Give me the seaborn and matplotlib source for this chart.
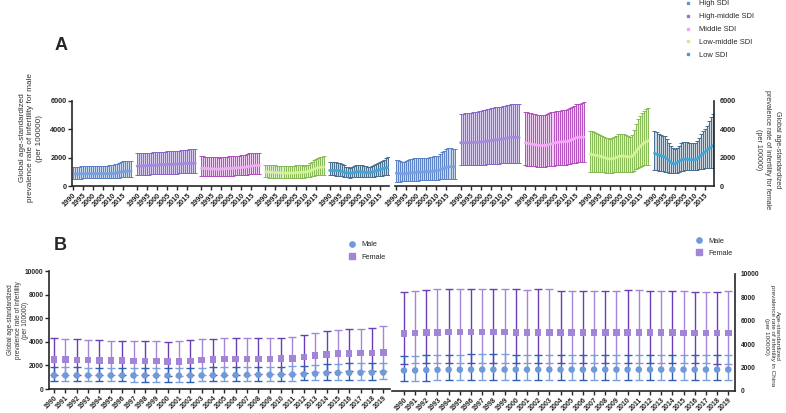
import numpy as np
import pandas as pd
import matplotlib
matplotlib.use("Agg")
import matplotlib.pyplot as plt
from matplotlib.lines import Line2D
import seaborn as sns

sns.set_style("ticks")
plt.rcParams['font.family'] = ['Liberation Sans', 'DejaVu Sans']

years = list(range(1990, 2020))
sdi_groups = ["High SDI", "High-middle SDI", "Middle SDI", "Low-middle SDI", "Low SDI"]

# ---- panel A, male (mean / upper / lower) ----
male_high = [850,850,855,860,860,865,870,870,875,875, 880,880,880,880,880,880,880,880,880,885, 890,900,930,960,990,1020,1040,1050,1050,1050]
male_high_up = [1350,1350,1360,1370,1380,1400,1420,1430,1440,1440, 1440,1440,1440,1440,1440,1440,1440,1440,1450,1460, 1480,1520,1580,1650,1700,1730,1740,1740,1740,1740]
male_high_lo = [520,520,520,525,525,530,530,535,535,540, 540,540,540,540,540,540,545,545,550,555, 560,570,585,600,610,615,620,620,620,620]

male_hmid = [1400,1405,1410,1420,1430,1440,1450,1455,1460,1470, 1480,1490,1500,1505,1510,1520,1525,1530,1535,1540, 1550,1560,1570,1580,1590,1595,1600,1600,1600,1600]
male_hmid_up = [2300,2300,2310,2320,2330,2340,2350,2360,2370,2380, 2390,2400,2410,2420,2430,2440,2450,2460,2470,2480, 2490,2500,2520,2540,2560,2570,2580,2580,2580,2580]
male_hmid_lo = [790,790,795,800,800,805,810,815,820,825, 830,835,840,845,850,855,860,865,870,875, 880,885,890,895,900,900,900,900,900,900]

male_mid = [1250,1245,1240,1230,1220,1210,1200,1195,1190,1190, 1200,1210,1220,1230,1240,1250,1260,1270,1280,1290, 1300,1310,1330,1360,1390,1410,1430,1440,1450,1450]
male_mid_up = [2100,2090,2080,2070,2060,2050,2040,2030,2020,2010, 2020,2040,2060,2080,2100,2110,2120,2130,2140,2150, 2160,2170,2210,2260,2300,2320,2340,2350,2360,2360]
male_mid_lo = [720,715,710,705,700,695,690,685,680,680, 685,690,700,710,720,730,740,745,750,755, 760,770,785,800,815,830,840,845,850,850]

male_lmid = [1000,990,980,970,960,950,940,930,920,915, 910,910,915,920,930,940,950,960,970,980, 990,1010,1050,1110,1170,1230,1280,1310,1330,1340]
male_lmid_up = [1500,1490,1480,1470,1460,1450,1440,1420,1400,1390, 1380,1390,1400,1420,1440,1450,1450,1450,1450,1440, 1450,1500,1600,1720,1840,1930,2000,2050,2080,2100]
male_lmid_lo = [620,610,600,595,590,585,580,575,570,565, 560,560,565,570,575,580,585,590,595,600, 610,630,660,700,730,760,780,790,800,800]

male_low = [1100,1100,1100,1100,1090,1080,1040,990,940,910, 900,920,950,980,1000,1000,990,970,960,950, 950,970,1010,1060,1110,1160,1200,1240,1270,1300]
male_low_up = [1700,1690,1680,1660,1640,1610,1550,1460,1370,1310, 1290,1330,1400,1460,1500,1480,1450,1420,1380,1360, 1350,1400,1480,1560,1640,1700,1770,1860,1960,2080]
male_low_lo = [760,755,750,740,730,720,690,660,630,610, 600,610,630,650,670,670,665,655,650,645, 645,655,670,690,710,725,740,750,760,770]

# ---- panel A, female ----
fem_high = [900,890,880,870,870,880,900,920,940,950, 960,970,980,990,1000,1000,1010,1020,1040,1060, 1080,1100,1150,1200,1260,1320,1350,1350,1350,1350]
fem_high_up = [1850,1800,1750,1720,1720,1750,1800,1870,1920,1950, 1960,1970,1980,1990,2000,2000,2010,2030,2060,2090, 2100,2150,2250,2380,2500,2600,2650,2650,2620,2600]
fem_high_lo = [310,310,310,320,320,330,340,350,360,370, 380,385,390,395,400,400,405,410,420,430, 440,450,470,490,510,520,520,510,500,490]

fem_hmid = [3050,3050,3050,3060,3060,3070,3070,3080,3080,3090, 3100,3110,3130,3150,3180,3200,3220,3240,3260,3280, 3300,3320,3350,3380,3410,3440,3450,3440,3430,3420]
fem_hmid_up = [5100,5100,5120,5140,5160,5180,5200,5220,5240,5260, 5300,5340,5380,5420,5460,5500,5520,5540,5560,5580, 5600,5630,5660,5700,5740,5780,5800,5780,5760,5750]
fem_hmid_lo = [1450,1455,1460,1465,1470,1475,1480,1485,1490,1495, 1500,1505,1510,1520,1530,1540,1550,1560,1570,1580, 1590,1600,1610,1620,1630,1640,1650,1650,1650,1650]

fem_mid = [3050,3020,2990,2960,2930,2910,2890,2870,2860,2850, 2860,2890,2930,2970,3010,3050,3080,3100,3110,3120, 3130,3150,3200,3260,3320,3390,3430,3450,3450,3450]
fem_mid_up = [5250,5200,5150,5120,5090,5060,5040,5020,5010,5000, 5020,5080,5140,5200,5240,5280,5300,5320,5340,5360, 5380,5420,5500,5580,5660,5760,5800,5800,5820,5950]
fem_mid_lo = [1450,1440,1420,1400,1390,1380,1370,1360,1350,1350, 1360,1380,1400,1420,1440,1450,1460,1470,1480,1490, 1500,1520,1560,1600,1630,1650,1670,1680,1690,1700]

fem_lmid = [2250,2220,2190,2160,2130,2100,2060,2010,1960,1920, 1900,1920,1960,2010,2060,2100,2110,2100,2080,2060, 2050,2100,2250,2450,2650,2800,2950,3050,3150,3200]
fem_lmid_up = [3900,3850,3790,3730,3660,3600,3540,3470,3400,3370, 3350,3400,3480,3560,3640,3700,3680,3640,3580,3500, 3450,3600,3950,4350,4700,4950,5150,5300,5400,5500]
fem_lmid_lo = [1020,1010,1000,990,980,970,960,955,950,945, 940,945,955,965,980,990,995,995,990,985, 980,1010,1080,1170,1260,1340,1400,1450,1480,1500]

fem_low = [2300,2250,2200,2150,2100,2050,1950,1820,1680,1580, 1550,1620,1720,1820,1880,1900,1900,1880,1860,1850, 1840,1900,2020,2150,2280,2400,2530,2650,2760,2850]
fem_low_up = [3900,3800,3700,3600,3550,3500,3300,3050,2800,2650, 2600,2700,2850,3000,3080,3100,3080,3050,3020,3000, 3000,3150,3400,3650,3850,4000,4250,4550,4850,5100]
fem_low_lo = [1150,1120,1090,1060,1030,1000,970,940,910,900, 900,940,990,1050,1090,1100,1100,1100,1100,1100, 1100,1130,1170,1200,1230,1250,1270,1280,1290,1300]

# ---- panel B, global ----
glob_male = [1160,1155,1150,1150,1150,1150,1150,1145,1140,1135, 1130,1130,1140,1150,1160,1170,1180,1190,1200,1205, 1210,1220,1250,1300,1340,1360,1370,1380,1390,1400]
glob_male_up = [1850,1840,1830,1820,1810,1800,1800,1800,1800,1800, 1790,1790,1800,1810,1830,1850,1860,1870,1880,1890, 1900,1910,1980,2070,2120,2150,2170,2190,2210,2240]
glob_male_lo = [650,650,650,645,640,640,640,635,630,625, 620,620,630,640,650,660,670,680,690,695, 700,710,730,760,780,790,800,800,800,810]
glob_fem = [2500,2480,2460,2440,2420,2410,2400,2390,2380,2360, 2340,2350,2380,2440,2500,2540,2550,2550,2560,2560, 2570,2600,2700,2850,2940,3000,3020,3040,3060,3100]
glob_fem_up = [4300,4260,4200,4150,4120,4100,4080,4060,4040,4030, 4020,4060,4120,4200,4280,4330,4340,4340,4340,4340, 4350,4400,4550,4750,4900,5000,5050,5100,5150,5300]
glob_fem_lo = [1200,1190,1180,1170,1160,1160,1160,1160,1150,1150, 1140,1140,1160,1180,1200,1220,1220,1220,1230,1230, 1240,1260,1320,1400,1460,1480,1490,1490,1490,1500]

# ---- panel B, China ----
cn_male = [1750,1760,1790,1810,1820,1820,1830,1830,1830,1830, 1830,1830,1830,1830,1830,1830,1830,1830,1830,1830, 1830,1830,1830,1830,1830,1830,1830,1830,1830,1830]
cn_male_up = [3000,3030,3060,3080,3100,3110,3120,3120,3120,3120, 3110,3110,3110,3110,3110,3110,3110,3110,3110,3110, 3100,3100,3100,3100,3100,3100,3100,3100,3090,3090]
cn_male_lo = [850,860,880,900,910,920,930,930,930,930, 930,930,930,930,930,930,930,930,930,930, 930,930,930,930,930,930,930,930,930,930]
cn_fem = [4900,4950,4990,5020,5040,5050,5050,5050,5040,5030, 5020,5010,5010,5010,5010,5000,5000,5000,5000,5000, 4990,4990,4990,4980,4980,4970,4960,4950,4940,4940]
cn_fem_up = [8450,8520,8620,8700,8720,8720,8730,8720,8720,8700, 8680,8650,8680,8690,8580,8560,8560,8560,8560,8560, 8620,8600,8580,8560,8520,8520,8500,8480,8500,8560]
cn_fem_lo = [2300,2370,2400,2420,2430,2430,2430,2430,2420,2420, 2410,2400,2410,2420,2420,2420,2420,2420,2420,2410, 2410,2400,2400,2400,2400,2400,2380,2370,2330,2300]

male_sets = [(male_high, male_high_lo, male_high_up), (male_hmid, male_hmid_lo, male_hmid_up),
             (male_mid, male_mid_lo, male_mid_up), (male_lmid, male_lmid_lo, male_lmid_up),
             (male_low, male_low_lo, male_low_up)]
fem_sets = [(fem_high, fem_high_lo, fem_high_up), (fem_hmid, fem_hmid_lo, fem_hmid_up),
            (fem_mid, fem_mid_lo, fem_mid_up), (fem_lmid, fem_lmid_lo, fem_lmid_up),
            (fem_low, fem_low_lo, fem_low_up)]

err_cols = ['#5a82c8', '#8a66cc', '#b44fc0', '#88bb55', '#4a6e8e']
band_cols = ['#a8bfe0', '#c4b0e6', '#e3b3e8', '#c8e0b0', '#a8bccc']
line_cols = ['#7aa0e0', '#a58ae0', '#f5a8f5', '#d4f29a', '#40a8d8']
leg_cols = ['#6a8ed8', '#9a70d8', '#f0a8f0', '#c8f090', '#40a0d0']

GAP = 32
lab_col = '#333333'
W, H = 786, 413

fig = plt.figure(figsize=(7.86, 4.13), dpi=100)


def panel_a(ax, sets):
    ticks, labs = [], []
    for g, (m, lo, up) in enumerate(sets):
        df = pd.DataFrame({'year': years, 'mean': m, 'lo': lo, 'up': up})
        df['x'] = g * GAP + (df['year'] - 1990)
        ax.fill_between(df['x'], df['lo'], df['up'], color=band_cols[g], alpha=0.6, lw=0)
        ax.errorbar(df['x'], df['mean'], yerr=[df['mean'] - df['lo'], df['up'] - df['mean']],
                    fmt='none', ecolor=err_cols[g], elinewidth=0.7, capsize=1.2, capthick=0.7)
        sns.lineplot(data=df, x='x', y='mean', ax=ax, color=line_cols[g], lw=2.0)
        for y in range(1990, 2019, 5):
            ticks.append(g * GAP + y - 1990)
            labs.append(str(y))
    ax.set_xticks(ticks)
    ax.set_xticklabels(labs, rotation=45, ha='right', rotation_mode='anchor',
                       fontsize=5.3, fontweight='bold')
    ax.set_xlim(-0.5, 5 * GAP - 2.5)
    ax.set_ylim(0, 6000)
    ax.set_yticks([0, 2000, 4000, 6000])
    ax.set_yticklabels(['0', '2000', '4000', '6000'], fontsize=5.3, fontweight='bold')
    ax.set_xlabel('')
    ax.set_ylabel('')
    ax.tick_params(length=3, width=1, pad=1)
    for s in ax.spines.values():
        s.set_linewidth(1.2)


# A left (male)
axA1 = fig.add_axes([0.0916, 0.5496, 0.403, 0.206])
panel_a(axA1, male_sets)
sns.despine(ax=axA1)
fig.text(31 / W, 1 - 138 / H, 'Global age-standardized\nprevalence rate of infertility for male\n(per 100000)',
         fontsize=5.9, color=lab_col, rotation=90, ha='center', va='center',
         multialignment='center', linespacing=1.35)

# A right (female)
axA2 = fig.add_axes([0.5025, 0.5496, 0.406, 0.206])
panel_a(axA2, fem_sets)
axA2.yaxis.tick_right()
sns.despine(ax=axA2, left=True, right=False)
fig.text(768 / W, 1 - 150 / H, 'Global age-standardized\nprevalence rate of infertility for female\n(per 100000)',
         fontsize=5.1, color=lab_col, rotation=270, ha='center', va='center',
         multialignment='center', linespacing=1.45)

handles = [Line2D([], [], marker='s', ls='none', color=c, markersize=2) for c in leg_cols]
fig.legend(handles, sdi_groups, loc='upper left', bbox_to_anchor=(0.862, 1.016), frameon=False,
           fontsize=5.4, handletextpad=0.9, labelspacing=0.75, handlelength=1)


def panel_b(ax, m, m_lo, m_up, f, f_lo, f_up):
    x = np.arange(len(years))
    mcols = ['#2f5fb0' if i % 2 == 0 else '#7aa0dc' for i in x]
    fcols = ['#6a3fb5' if i % 2 == 0 else '#a585d8' for i in x]
    m, m_lo, m_up = np.array(m), np.array(m_lo), np.array(m_up)
    f, f_lo, f_up = np.array(f), np.array(f_lo), np.array(f_up)
    for i in x:
        ax.errorbar(i, f[i], yerr=[[f[i] - f_lo[i]], [f_up[i] - f[i]]], fmt='none',
                    ecolor=fcols[i], elinewidth=1.0, capsize=3, capthick=1.0)
        ax.errorbar(i, m[i], yerr=[[m[i] - m_lo[i]], [m_up[i] - m[i]]], fmt='none',
                    ecolor=mcols[i], elinewidth=1.0, capsize=3, capthick=1.0)
    df = pd.DataFrame({'x': np.concatenate([x, x]), 'val': np.concatenate([m, f]),
                       'sex': ['Male'] * len(x) + ['Female'] * len(x)})
    sns.scatterplot(data=df, x='x', y='val', hue='sex', style='sex', ax=ax,
                    palette={'Male': '#6f9ad8', 'Female': '#a385d8'},
                    markers={'Male': 'o', 'Female': 's'}, s=22, linewidth=0, legend=False, zorder=5)
    ax.set_xticks(x)
    ax.set_xticklabels([str(y) for y in years], rotation=45, ha='right', rotation_mode='anchor',
                       fontsize=5, fontweight='bold')
    ax.set_ylim(0, 10000)
    ax.set_yticks([0, 2000, 4000, 6000, 8000, 10000])
    ax.set_yticklabels(['0', '2000', '4000', '6000', '8000', '10000'], fontsize=4.8, fontweight='bold')
    ax.set_xlabel('')
    ax.set_ylabel('')
    ax.tick_params(length=3, width=1, pad=1)
    for s in ax.spines.values():
        s.set_linewidth(1.2)


axB1 = fig.add_axes([0.0623, 0.0581, 0.434, 0.2857])
panel_b(axB1, glob_male, glob_male_lo, glob_male_up, glob_fem, glob_fem_lo, glob_fem_up)
axB1.set_xlim(-0.45, 29.6)
sns.despine(ax=axB1)
fig.text(18 / W, 1 - 320 / H, 'Global age-standardized\nprevalence rate of infertility\n(per 100000)',
         fontsize=4.7, color=lab_col, rotation=90, ha='center', va='center',
         multialignment='center', linespacing=1.15)

axB2 = fig.add_axes([0.4987, 0.0533, 0.4364, 0.2833])
panel_b(axB2, cn_male, cn_male_lo, cn_male_up, cn_fem, cn_fem_lo, cn_fem_up)
axB2.set_xlim(-1.07, 29.6)
axB2.yaxis.tick_right()
sns.despine(ax=axB2, left=True, right=False)
fig.text(772 / W, 1 - 336 / H, 'Age-standardized\nprevalence rate of infertility in China\n(per 100000)',
         fontsize=4.6, color=lab_col, rotation=270, ha='center', va='center',
         multialignment='center', linespacing=1.2)

hb = [Line2D([], [], marker='o', ls='none', color='#6f9ad8', markersize=3.8),
      Line2D([], [], marker='s', ls='none', color='#a385d8', markersize=3.8)]
fig.legend(hb, ['Male', 'Female'], loc='upper left', bbox_to_anchor=(0.435, 0.432), frameon=False,
           fontsize=5.3, handletextpad=0.8, labelspacing=0.75, handlelength=1)
fig.legend(hb, ['Male', 'Female'], loc='upper left', bbox_to_anchor=(0.876, 0.44), frameon=False,
           fontsize=5.3, handletextpad=0.8, labelspacing=0.65, handlelength=1)

fig.text(61 / W, 1 - 45 / H, 'A', fontsize=13, fontweight='bold', ha='center', va='center')
fig.text(60 / W, 1 - 246 / H, 'B', fontsize=13, fontweight='bold', ha='center', va='center')

fig.savefig('out.png', dpi=100)
